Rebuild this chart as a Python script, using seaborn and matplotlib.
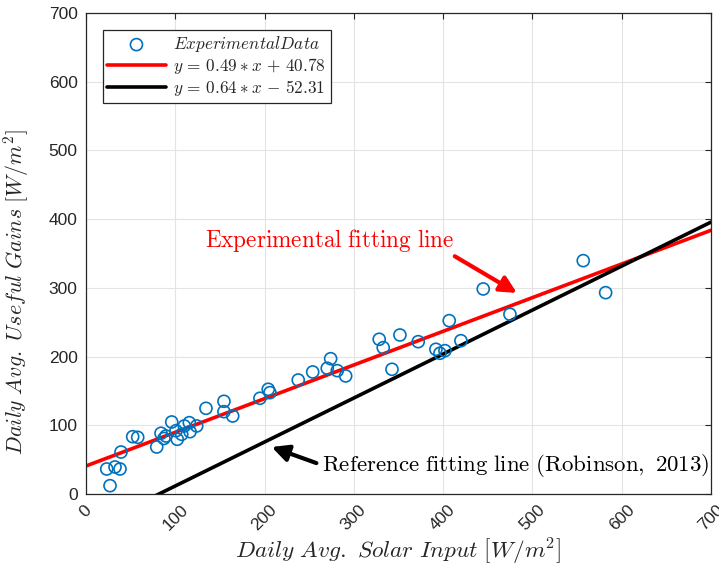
import numpy as np
import pandas as pd
import matplotlib
matplotlib.use("Agg")
import matplotlib.pyplot as plt
import seaborn as sns

# ---- data ----
solar_input = [23.2, 26.9, 32.5, 38.1, 39.2, 52.3, 57.9, 79.2, 84.0, 87.3, 89.6,
               96.0, 100.8, 102.2, 107.2, 110.1, 115.7, 116.5, 124.0, 134.4,
               154.5, 154.5, 164.3, 194.8, 204.1, 206.0, 237.7, 253.9, 270.2,
               274.0, 281.4, 290.8, 328.4, 332.9, 342.7, 351.6, 372.1, 391.9,
               396.4, 402.0, 406.8, 419.9, 444.9, 474.8, 556.9, 582.0]
useful_gains = [36.4, 12.1, 39.3, 36.4, 61.1, 83.4, 82.5, 68.4, 88.4, 80.8, 84.4,
                104.8, 92.1, 79.6, 86.9, 99.0, 103.8, 90.7, 99.0, 124.7,
                134.9, 119.8, 113.5, 139.3, 152.4, 147.5, 165.9, 177.6, 183.0,
                196.9, 179.5, 171.8, 225.2, 213.0, 181.5, 231.4, 221.7, 210.6,
                204.8, 208.6, 252.3, 223.1, 298.4, 261.6, 339.6, 293.0]

fit_x = [0, 700]
exp_slope, exp_intercept = 0.49, 40.78
ref_slope, ref_intercept = 0.64, -52.31

x_ticks = [0, 100, 200, 300, 400, 500, 600, 700]
y_ticks = [0, 100, 200, 300, 400, 500, 600, 700]

labels = [r"$Experimental Data$", r"$y\,=\,0.49*x\,+\,40.78$",
          r"$y\,=\,0.64*x\,-\,52.31$"]

# ---- build frames ----
df_pts = pd.DataFrame({"x": solar_input, "y": useful_gains})
fx = np.array(fit_x, dtype=float)
df_exp = pd.DataFrame({"x": fx, "y": exp_slope * fx + exp_intercept})
df_ref = pd.DataFrame({"x": fx, "y": ref_slope * fx + ref_intercept})

sns.set_theme(style="white")
plt.rcParams["font.family"] = ["Liberation Sans", "DejaVu Sans"]
plt.rcParams["mathtext.fontset"] = "cm"

fig = plt.figure(figsize=(7.19, 5.74), dpi=100)
ax = fig.add_axes([86 / 719, 1 - 494 / 574, (711 - 86) / 719, (494 - 13) / 574])

sns.scatterplot(data=df_pts, x="x", y="y", ax=ax, marker="o", s=75,
                facecolor="none", edgecolor="#0072BD", linewidth=1.2,
                label=labels[0], zorder=3)
sns.lineplot(data=df_exp, x="x", y="y", ax=ax, color="#FF0000", lw=2.6,
             label=labels[1], zorder=2)
sns.lineplot(data=df_ref, x="x", y="y", ax=ax, color="black", lw=2.6,
             label=labels[2], zorder=2)

ax.set_xlim(0, 700)
ax.set_ylim(0, 700)
ax.set_xticks(x_ticks)
ax.set_yticks(y_ticks)
ax.set_xticklabels([str(t) for t in x_ticks], rotation=45, ha="center",
                   va="top", fontsize=12.5, color="#262626")
ax.set_yticklabels([str(t) for t in y_ticks], fontsize=12.5, color="#262626")
ax.tick_params(direction="in", length=4, width=0.8, top=True, right=True,
               colors="#262626", pad=6)
ax.grid(True, color="#e3e3e3", lw=0.8)
for s in ax.spines.values():
    s.set_color("#262626")
    s.set_linewidth(0.9)

ax.set_xlabel(r"$Daily\ Avg.\ Solar\ Input\ [W/m^2]$", fontsize=16.8, labelpad=1)
ax.set_ylabel(r"$Daily\ Avg.\ Useful\ Gains\ [W/m^2]$", fontsize=15.8)
ax.yaxis.set_label_coords(-0.088, 0.42)

leg = ax.legend(loc="upper left", bbox_to_anchor=(0.027, 0.965), fontsize=12.4,
                frameon=True, fancybox=False, edgecolor="#262626",
                framealpha=1, handlelength=3.4, borderpad=0.25,
                labelspacing=0.12, handletextpad=0.45, borderaxespad=0)
leg.get_frame().set_linewidth(0.9)

ax.text(413, 350, r"$\mathrm{Experimental\ fitting\ line}$", color="#FF0000",
        fontsize=16.7, ha="right", va="bottom")
ax.annotate("", xy=(482.6, 292.6), xytext=(413, 346),
            arrowprops=dict(arrowstyle="-|>", color="#FF0000", lw=3,
                            mutation_scale=25, shrinkA=0, shrinkB=0))

ax.text(264, 42, r"$\mathrm{Reference\ fitting\ line\ (Robinson,\ 2013)}$",
        color="black", fontsize=16.5, ha="left", va="center")
ax.annotate("", xy=(208, 68.4), xytext=(258, 45),
            arrowprops=dict(arrowstyle="-|>", color="black", lw=3,
                            mutation_scale=25, shrinkA=0, shrinkB=0))

fig.savefig("out.png", dpi=100, facecolor="white")
